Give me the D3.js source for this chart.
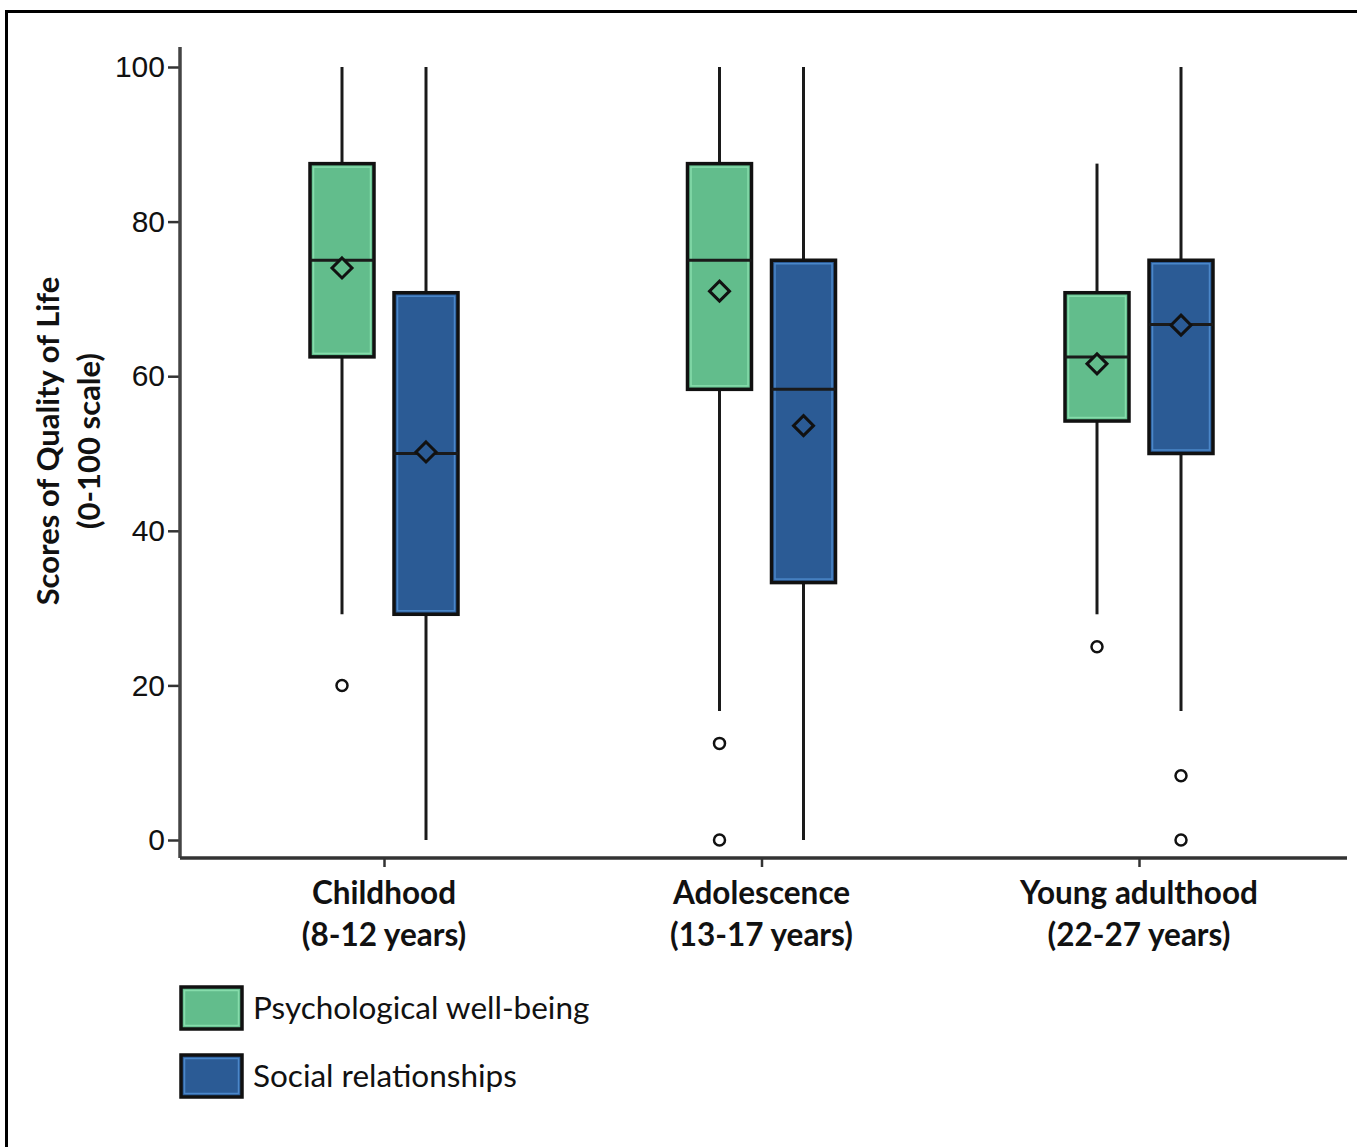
<!DOCTYPE html>
<html>
<head>
<meta charset="utf-8">
<script src="https://cdn.jsdelivr.net/npm/d3@7"></script>
<style>
  html, body { margin: 0; padding: 0; background: #fff; }
  svg { display: block; }
</style>
</head>
<body>
<svg id="chart" width="1357" height="1147"></svg>
<script>
// ---- data ----
const categories = ["Childhood", "Adolescence", "Young adulthood"];
const categorySub = ["(8-12 years)", "(13-17 years)", "(22-27 years)"];
const series = ["Psychological well-being", "Social relationships"];
const seriesColors = ["#62bd8c", "#2b5b95"];
const seriesInner = ["#86dcab", "#4b87c9"];

// Psychological well-being
const psychLow    = [29.2, 16.7, 29.2];
const psychQ1     = [62.5, 58.3, 54.2];
const psychMedian = [75.0, 75.0, 62.5];
const psychQ3     = [87.5, 87.5, 70.8];
const psychHigh   = [100, 100, 87.5];
const psychMean   = [74.0, 71.0, 61.6];
const psychOutliers = [[20], [12.5, 0], [25]];

// Social relationships
const socialLow    = [0, 0, 16.7];
const socialQ1     = [29.2, 33.3, 50.0];
const socialMedian = [50.0, 58.3, 66.7];
const socialQ3     = [70.8, 75.0, 75.0];
const socialHigh   = [100, 100, 100];
const socialMean   = [50.2, 53.6, 66.6];
const socialOutliers = [[], [], [8.3, 0]];

const yTicks = [0, 20, 40, 60, 80, 100];

// ---- build table ----
const boxes = [];
categories.forEach((c, i) => {
  boxes.push({cat: c, s: series[0], si: 0, low: psychLow[i], q1: psychQ1[i], med: psychMedian[i], q3: psychQ3[i], high: psychHigh[i], mean: psychMean[i], out: psychOutliers[i]});
  boxes.push({cat: c, s: series[1], si: 1, low: socialLow[i], q1: socialQ1[i], med: socialMedian[i], q3: socialQ3[i], high: socialHigh[i], mean: socialMean[i], out: socialOutliers[i]});
});

const svg = d3.select("#chart");

// outer frame (cropped on right and bottom)
svg.append("rect").attr("x", 6.5).attr("y", 11.5).attr("width", 1400).attr("height", 1200)
  .attr("fill", "none").attr("stroke", "#000").attr("stroke-width", 3);

// ---- scales ----
const y = d3.scaleLinear().domain([0, 100]).range([840, 67]);
const x = d3.scalePoint().domain(categories).range([384, 1139]);
const xs = d3.scaleBand().domain(series).range([-74, 74]).paddingInner(20 / 84);

const axisX0 = 180, axisY0 = 858;

// y axis
const yAxis = d3.axisLeft(y).tickValues(yTicks).tickSize(12).tickSizeOuter(0).tickPadding(3);
const gy = svg.append("g").attr("transform", `translate(${axisX0},0)`).call(yAxis);
gy.select(".domain").remove();
gy.selectAll(".tick line").attr("stroke", "#333").attr("stroke-width", 2.5);
gy.selectAll(".tick text").attr("font-family", "'Liberation Sans', Arial, sans-serif")
  .attr("font-size", 30).attr("fill", "#111");
svg.append("line").attr("x1", axisX0).attr("x2", axisX0).attr("y1", 47).attr("y2", axisY0)
  .attr("stroke", "#444").attr("stroke-width", 3.5);

// x axis
const xAxis = d3.axisBottom(x).tickSize(9).tickSizeOuter(0).tickFormat("");
const gx = svg.append("g").attr("transform", `translate(0,${axisY0})`).call(xAxis);
gx.select(".domain").remove();
gx.selectAll(".tick line").attr("stroke", "#333").attr("stroke-width", 2.5);
svg.append("line").attr("x1", axisX0).attr("x2", 1347).attr("y1", axisY0).attr("y2", axisY0)
  .attr("stroke", "#333").attr("stroke-width", 3.5);

// category labels
const catFont = "Lato, 'Open Sans', sans-serif";
categories.forEach((c, i) => {
  svg.append("text").attr("x", x(c)).attr("y", 904).attr("text-anchor", "middle")
    .attr("font-family", catFont).attr("font-weight", "bold").attr("font-size", 31.5).attr("fill", "#111").text(c);
  svg.append("text").attr("x", x(c)).attr("y", 946).attr("text-anchor", "middle")
    .attr("font-family", catFont).attr("font-weight", "bold").attr("font-size", 31.5).attr("fill", "#111").text(categorySub[i]);
});

// y axis title
const yt = svg.append("g").attr("transform", "translate(59,441) rotate(-90)");
yt.append("text").attr("text-anchor", "middle").attr("font-family", catFont).attr("font-weight", "bold")
  .attr("font-size", 31).attr("fill", "#111").text("Scores of Quality of Life");
yt.append("text").attr("y", 41).attr("text-anchor", "middle").attr("font-family", catFont).attr("font-weight", "bold")
  .attr("font-size", 31).attr("fill", "#111").text("(0-100 scale)");

// ---- boxes ----
const g = svg.append("g");
const bw = xs.bandwidth();
const bx = d => x(d.cat) + xs(d.s);
const cx = d => bx(d) + bw / 2;

// whiskers
g.selectAll(".wlo").data(boxes).join("line")
  .attr("x1", cx).attr("x2", cx).attr("y1", d => y(d.low)).attr("y2", d => y(d.q1))
  .attr("stroke", "#1a1a1a").attr("stroke-width", 3);
g.selectAll(".whi").data(boxes).join("line")
  .attr("x1", cx).attr("x2", cx).attr("y1", d => y(d.high)).attr("y2", d => y(d.q3))
  .attr("stroke", "#1a1a1a").attr("stroke-width", 3);

// box body
g.selectAll(".box").data(boxes).join("rect")
  .attr("x", bx).attr("width", bw).attr("y", d => y(d.q3)).attr("height", d => y(d.q1) - y(d.q3))
  .attr("fill", d => seriesColors[d.si]).attr("stroke", "#111").attr("stroke-width", 3.5);
// inner highlight
g.selectAll(".boxin").data(boxes).join("rect")
  .attr("x", d => bx(d) + 3.5).attr("width", bw - 7).attr("y", d => y(d.q3) + 3.5)
  .attr("height", d => y(d.q1) - y(d.q3) - 7)
  .attr("fill", "none").attr("stroke", d => seriesInner[d.si]).attr("stroke-width", 1.5);

// median
g.selectAll(".med").data(boxes).join("line")
  .attr("x1", bx).attr("x2", d => bx(d) + bw).attr("y1", d => y(d.med)).attr("y2", d => y(d.med))
  .attr("stroke", "#1a1a1a").attr("stroke-width", 3);

// mean diamond
const dsz = 10;
g.selectAll(".mean").data(boxes).join("path")
  .attr("d", d => {
    const px = cx(d), py = y(d.mean);
    return `M${px},${py - dsz}L${px + dsz},${py}L${px},${py + dsz}L${px - dsz},${py}Z`;
  })
  .attr("fill", d => seriesColors[d.si]).attr("stroke", "#111").attr("stroke-width", 3);

// outliers
const outs = [];
boxes.forEach(d => d.out.forEach(v => outs.push({d, v})));
g.selectAll(".out").data(outs).join("circle")
  .attr("cx", o => cx(o.d)).attr("cy", o => y(o.v)).attr("r", 5.5)
  .attr("fill", "#fff").attr("stroke", "#111").attr("stroke-width", 2.5);

// ---- legend ----
const legY = [987, 1055];
series.forEach((s, i) => {
  svg.append("rect").attr("x", 181).attr("y", legY[i]).attr("width", 61).attr("height", 42)
    .attr("fill", seriesColors[i]).attr("stroke", "#111").attr("stroke-width", 3.5);
  svg.append("rect").attr("x", 184.5).attr("y", legY[i] + 3.5).attr("width", 54).attr("height", 35)
    .attr("fill", "none").attr("stroke", seriesInner[i]).attr("stroke-width", 1.5);
  svg.append("text").attr("x", 253).attr("y", legY[i] + 32).attr("font-family", catFont)
    .attr("font-size", 31.5).attr("fill", "#111").text(s);
});
</script>
</body>
</html>
